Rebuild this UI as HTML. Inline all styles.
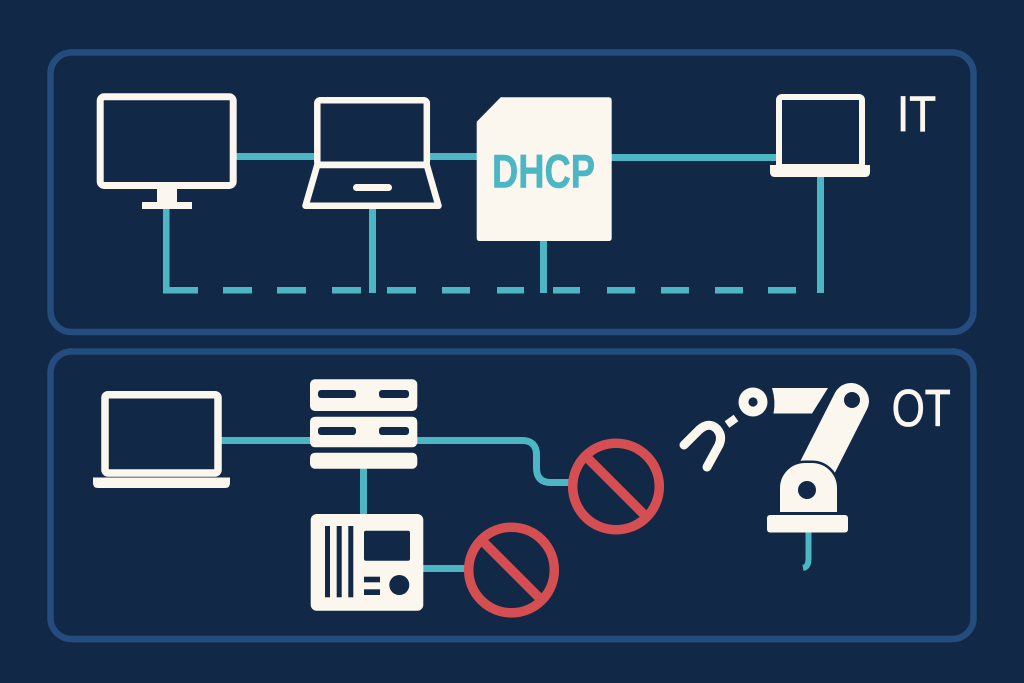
<!DOCTYPE html>
<html>
<head>
<meta charset="utf-8">
<style>
  html,body{margin:0;padding:0;background:#112946;}
  svg{display:block;}
</style>
</head>
<body>
<svg width="1024" height="683" viewBox="0 0 1024 683" xmlns="http://www.w3.org/2000/svg">
  <rect x="0" y="0" width="1024" height="683" fill="#112946"/>

  <!-- Panels -->
  <rect x="50.5" y="52.5" width="923" height="279.5" rx="21" fill="none" stroke="#244c7f" stroke-width="6.5"/>
  <rect x="50.5" y="351.5" width="923" height="287.5" rx="21" fill="none" stroke="#244c7f" stroke-width="6.5"/>

  <!-- ============ IT panel ============ -->
  <g fill="#4cb6c4">
    <rect x="236" y="153" width="79" height="7"/>
    <rect x="429" y="153" width="49" height="7"/>
    <rect x="610" y="154" width="168" height="7"/>
    <rect x="163" y="208" width="6.5" height="85"/>
    <rect x="369" y="208" width="7" height="85"/>
    <rect x="540" y="240" width="7" height="53"/>
    <rect x="817" y="176" width="7" height="117"/>
    <rect x="163" y="287" width="35" height="6.5"/>
    <rect x="223" y="287" width="29" height="6.5"/>
    <rect x="277" y="287" width="29" height="6.5"/>
    <rect x="332" y="287" width="29" height="6.5"/>
    <rect x="387" y="287" width="29" height="6.5"/>
    <rect x="442" y="287" width="28" height="6.5"/>
    <rect x="497" y="287" width="27" height="6.5"/>
    <rect x="553" y="287" width="27" height="6.5"/>
    <rect x="607" y="287" width="28" height="6.5"/>
    <rect x="661" y="287" width="28" height="6.5"/>
    <rect x="715" y="287" width="28" height="6.5"/>
    <rect x="768" y="287" width="28" height="6.5"/>
  </g>

  <!-- Monitor -->
  <rect x="100.2" y="96.8" width="133" height="88.7" rx="4" fill="none" stroke="#fbf7ee" stroke-width="7"/>
  <rect x="157" y="188" width="20" height="15" fill="#fbf7ee"/>
  <rect x="142" y="202" width="50" height="7" fill="#fbf7ee"/>

  <!-- Laptop 1 -->
  <rect x="317.3" y="100.3" width="109.5" height="64.5" rx="3" fill="none" stroke="#fbf7ee" stroke-width="6.5"/>
  <path d="M317.3,165 L305.5,205.8 L438.5,205.8 L426.8,165 Z" fill="none" stroke="#fbf7ee" stroke-width="6.5" stroke-linejoin="round"/>
  <rect x="353" y="184" width="39" height="7" rx="3.5" fill="#fbf7ee"/>

  <!-- DHCP -->
  <path d="M500.7,97.3 L608.7,97.3 Q611.7,97.3 611.7,100.3 L611.7,238 Q611.7,241 608.7,241 L479.7,241 Q476.7,241 476.7,238 L476.7,121.7 Z" fill="#fbf7ee"/>
  <text x="492" y="187.5" font-family="Liberation Sans, sans-serif" font-weight="bold" font-size="47" fill="#4cb6c4" stroke="#4cb6c4" stroke-width="0.6" textLength="103" lengthAdjust="spacingAndGlyphs">DHCP</text>

  <!-- Laptop right -->
  <rect x="779" y="97" width="83" height="70" rx="3" fill="none" stroke="#fbf7ee" stroke-width="6"/>
  <path d="M770,165 H870 V172 Q870,177 865,177 H775 Q770,177 770,172 Z" fill="#fbf7ee"/>

  <!-- IT label -->
  <text x="897" y="131" font-family="Liberation Sans, sans-serif" font-size="50" fill="#fbf7ee" stroke="#fbf7ee" stroke-width="0.8" textLength="39" lengthAdjust="spacingAndGlyphs">IT</text>

  <!-- ============ OT panel ============ -->
  <g fill="#4cb6c4">
    <rect x="221" y="437" width="90" height="7"/>
    <rect x="360" y="468" width="7" height="47"/>
    <rect x="422" y="565" width="44" height="7"/>
  </g>
  <path d="M416,440.5 H522 Q536.5,440.5 536.5,455 V468 Q536.5,482.5 551,482.5 H572" fill="none" stroke="#4cb6c4" stroke-width="7"/>

  <!-- Laptop bottom -->
  <rect x="105" y="394.7" width="113" height="78.3" rx="3" fill="none" stroke="#fbf7ee" stroke-width="7.5"/>
  <path d="M93,477.5 H230 V483 Q230,488 225,488 H98 Q93,488 93,483 Z" fill="#fbf7ee"/>

  <!-- Server -->
  <rect x="310" y="379.3" width="107.3" height="31.7" rx="5" fill="#fbf7ee"/>
  <rect x="310" y="416.7" width="107.3" height="30.6" rx="5" fill="#fbf7ee"/>
  <rect x="310" y="452.7" width="107.3" height="16" rx="5" fill="#fbf7ee"/>
  <g fill="#112946">
    <rect x="318" y="390" width="38" height="8" rx="3"/>
    <rect x="379" y="390" width="30" height="8" rx="3"/>
    <rect x="318" y="427" width="38" height="8" rx="3"/>
    <rect x="379" y="427" width="30" height="8" rx="3"/>
  </g>

  <!-- PLC -->
  <rect x="310.7" y="514" width="112.6" height="96.7" rx="6" fill="#fbf7ee"/>
  <g fill="#112946">
    <rect x="325" y="526" width="5" height="71.3"/>
    <rect x="336.7" y="526" width="5" height="71.3"/>
    <rect x="348.3" y="526" width="5" height="71.3"/>
    <rect x="364" y="530.7" width="46" height="30" rx="2"/>
    <rect x="364" y="576.7" width="16" height="5.6"/>
    <rect x="364" y="589.3" width="16" height="5.7"/>
    <circle cx="399.3" cy="585" r="10"/>
  </g>

  <!-- Red no-signs -->
  <g fill="none" stroke="#d54f52" stroke-width="9.5">
    <circle cx="616" cy="486.5" r="43.3"/>
    <line x1="588" y1="458.5" x2="644" y2="514.5"/>
    <circle cx="511.5" cy="570" r="42.8"/>
    <line x1="484" y1="542.5" x2="539" y2="597.5"/>
  </g>

  <!-- Robot arm -->
  <path d="M684,445 L699,430 Q709,421 717,429 Q723,436 719,445 L707,467" fill="none" stroke="#fbf7ee" stroke-width="9" stroke-linecap="round" stroke-linejoin="round"/>
  <line x1="727" y1="424.5" x2="736" y2="418" stroke="#fbf7ee" stroke-width="8"/>
  <circle cx="753" cy="402" r="14.5" fill="#fbf7ee"/>
  <circle cx="753" cy="402" r="4.6" fill="#112946"/>
  <path d="M772,388 L828,388 L812,413.5 L773.5,413.5 Q776,401 772,388 Z" fill="#fbf7ee"/>
  <line x1="851" y1="401" x2="812" y2="478" stroke="#fbf7ee" stroke-width="36" stroke-linecap="round"/>
  <circle cx="852" cy="400" r="8" fill="#112946"/>
  <path d="M780,512 V488 A25,25 0 0 1 805,463 H812 A25,25 0 0 1 837,488 V512 Z" fill="#fbf7ee" stroke="#112946" stroke-width="5" paint-order="stroke"/>
  <circle cx="807" cy="490" r="9" fill="#112946"/>
  <path d="M808.5,531 V559 Q808.5,567 803,568" fill="none" stroke="#4cb6c4" stroke-width="6"/>
  <rect x="767" y="515" width="81" height="17.5" rx="3" fill="#fbf7ee"/>

  <!-- OT label -->
  <text x="891.7" y="426" font-family="Liberation Sans, sans-serif" font-size="52" fill="#fbf7ee" stroke="#fbf7ee" stroke-width="0.8" textLength="59" lengthAdjust="spacingAndGlyphs">OT</text>
</svg>
</body>
</html>
